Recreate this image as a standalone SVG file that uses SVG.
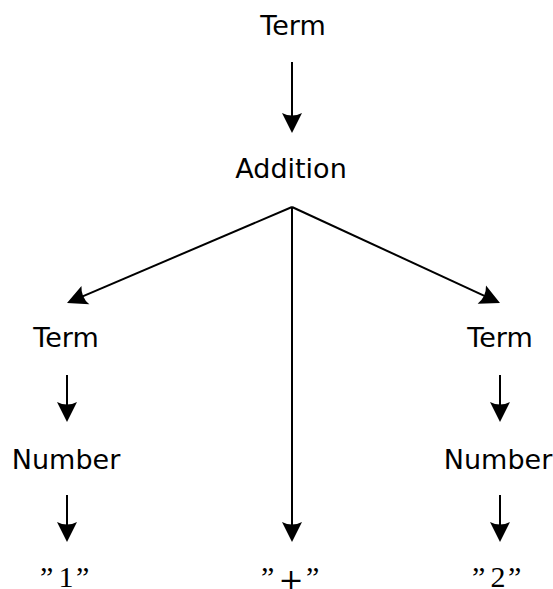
<svg xmlns="http://www.w3.org/2000/svg" width="553" height="589" viewBox="0 0 553 589">
  <style>
    .lbl { font-family: "DejaVu Sans", "Liberation Sans", sans-serif; font-size: 27px; fill: #000; text-anchor: middle; }
    .lit { font-family: "Liberation Serif", "Times New Roman", serif; font-size: 30px; fill: #000; }
    .op { font-family: "DejaVu Serif", "Liberation Serif", serif; }
    .edge { stroke: #000; stroke-width: 2; fill: none; marker-end: url(#head); }
  </style>
  <defs>
    <!-- LaTeX-style arrowhead; tip sits 10px beyond the line end -->
    <marker id="head" markerUnits="userSpaceOnUse" viewBox="0 -11 21 22" markerWidth="21" markerHeight="22" refX="10" refY="0" orient="auto" overflow="visible">
      <path d="M20,0 L0,-10 Q5,0 0,10 Z" fill="#000"/>
    </marker>
  </defs>

  <!-- connectors -->
  <g id="edges">
    <line class="edge" x1="292" y1="62" x2="292" y2="123"/>
    <line class="edge" x1="292" y1="207" x2="76.2" y2="299.1"/>
    <line class="edge" x1="292" y1="207" x2="292" y2="532"/>
    <line class="edge" x1="292" y1="207" x2="490.9" y2="298.8"/>
    <line class="edge" x1="67" y1="375" x2="67" y2="412"/>
    <line class="edge" x1="67" y1="495" x2="67" y2="532"/>
    <line class="edge" x1="500" y1="375" x2="500" y2="412"/>
    <line class="edge" x1="500" y1="495" x2="500" y2="532"/>
  </g>

  <!-- nodes -->
  <g id="term-root"><text class="lbl" x="293" y="35">Term</text></g>
  <g id="addition"><text class="lbl" x="291" y="178">Addition</text></g>
  <g id="term-left"><text class="lbl" x="66" y="347">Term</text></g>
  <g id="term-right"><text class="lbl" x="500" y="347">Term</text></g>
  <g id="number-left"><text class="lbl" x="66" y="469">Number</text></g>
  <g id="number-right"><text class="lbl" x="498" y="469">Number</text></g>
  <g id="lit-1"><text class="lit" y="587"><tspan x="40">”</tspan><tspan x="58.5">1</tspan><tspan x="76">”</tspan></text></g>
  <g id="lit-plus"><text class="lit" y="587"><tspan x="261">”</tspan><tspan class="op" x="278.5" dy="3">+</tspan><tspan x="306" dy="-3">”</tspan></text></g>
  <g id="lit-2"><text class="lit" y="587"><tspan x="472">”</tspan><tspan x="490.5">2</tspan><tspan x="508">”</tspan></text></g>
</svg>
